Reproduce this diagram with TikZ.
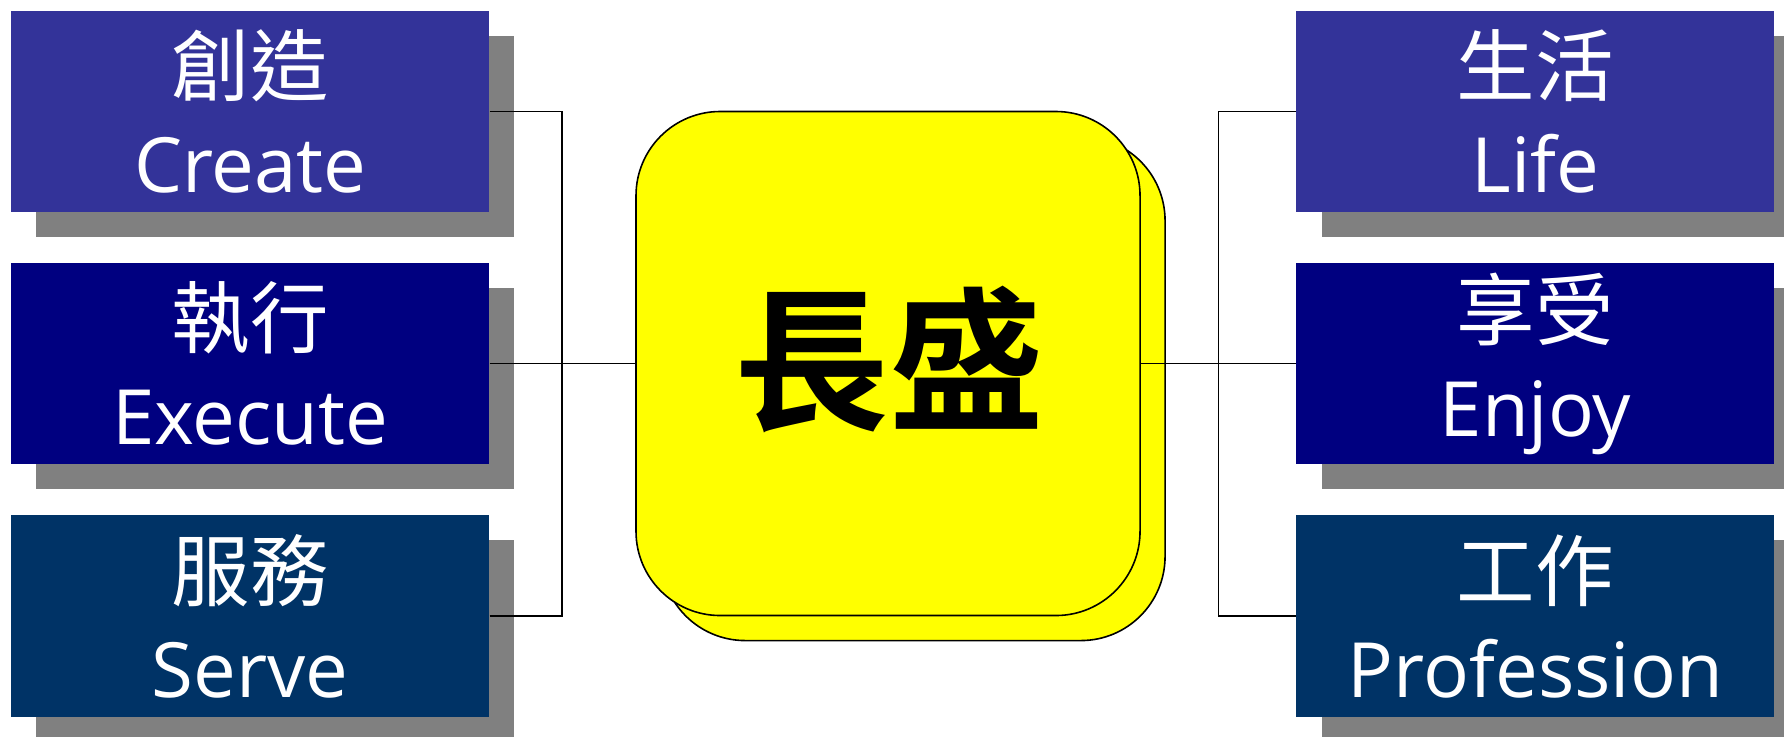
\documentclass[tikz,border=0pt]{standalone}
\usepackage{fontspec}
\setmainfont{Open Sans}
\newfontfamily\cjk{Noto Sans CJK TC}
\newfontfamily\cjkbold{Noto Sans CJK TC Bold}
\usetikzlibrary{shadows}
\definecolor{boxA}{RGB}{51,51,153}
\definecolor{boxB}{RGB}{0,0,128}
\definecolor{boxC}{RGB}{0,51,102}
\definecolor{shade}{RGB}{128,128,128}
\definecolor{hubfill}{RGB}{255,255,0}
\begin{document}
\begin{tikzpicture}[x=0.5pt,y=-0.5pt]
\tikzset{
  item/.style={rectangle, inner sep=0pt, minimum width=210pt, minimum height=88.5pt,
    text=white, align=center, font=\fontsize{33.5}{42}\selectfont,
    drop shadow={shadow xshift=11pt, shadow yshift=-11pt, fill=shade, opacity=1}},
  hub/.style={rectangle, rounded corners=37pt, draw=black, line width=0.7pt, fill=hubfill,
    minimum width=221.5pt, minimum height=221.5pt, inner sep=0pt},
  wire/.style={draw=black, line width=0.7pt}
}
\newcommand\cjkline[1]{\raisebox{0.6pt}{\cjk\fontsize{34.5}{42}\selectfont #1}}
\useasboundingbox (0,0) rectangle (1568,647);
% left boxes
\node[item, fill=boxA] (l1) at (220,98) {\cjkline{創造}\\Create};
\node[item, fill=boxB] (l2) at (220,319.5) {\cjkline{執行}\\Execute};
\node[item, fill=boxC] (l3) at (220,541.5) {\cjkline{服務}\\Serve};
% right boxes
\node[item, fill=boxA] (r1) at (1349.5,98) {\cjkline{生活}\\Life};
\node[item, fill=boxB] (r2) at (1349.5,319.5) {\cjkline{享受}\\Enjoy};
\node[item, fill=boxC] (r3) at (1349.5,541.5) {\cjkline{工作}\\Profession};
% centre
\node[hub] (back) at (802.5,341.5) {};
\node[hub] (hubf) at (780.5,319.5) {};
\node[font=\cjkbold\fontsize{68}{68}\selectfont] (title) at (782,316) {長盛};
% junctions
\coordinate (jl) at (494,319.5);
\coordinate (jr) at (1071,319.5);
\draw[wire] (l1.east) -| (jl);
\draw[wire] (l3.east) -| (jl);
\draw[wire] (l2.east) -- (hubf.west);
\draw[wire] (r1.west) -| (jr);
\draw[wire] (r3.west) -| (jr);
\draw[wire] (hubf.east) -- (r2.west);
\end{tikzpicture}
\end{document}
